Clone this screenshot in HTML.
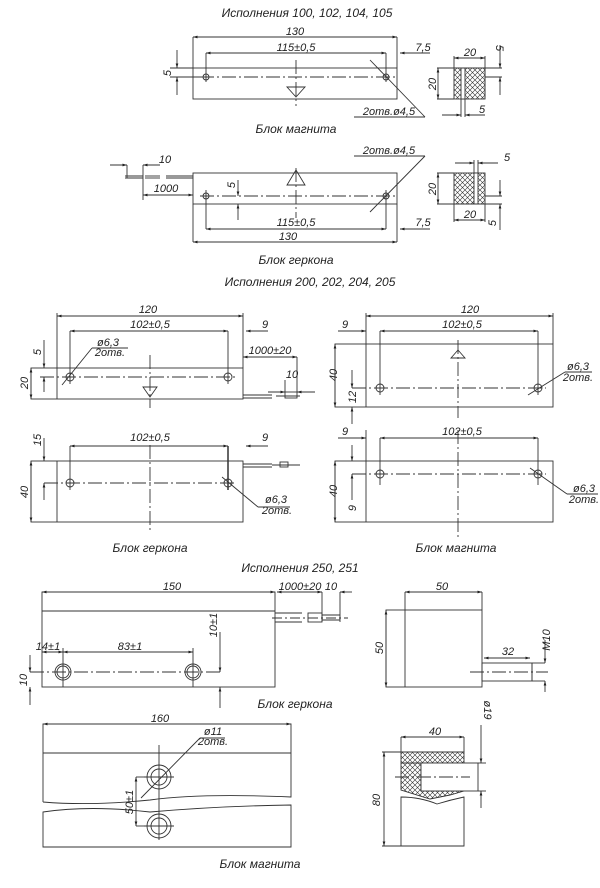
<!DOCTYPE html>
<html><head><meta charset="utf-8"><style>
html,body{margin:0;padding:0;background:#fff}
svg{display:block}
text{font-family:"Liberation Sans Narrow","Liberation Sans",sans-serif;font-style:italic;fill:#222;font-size:11px}
.t{font-size:12px}
</style></head><body>
<svg width="600" height="888" viewBox="0 0 600 888" xmlns="http://www.w3.org/2000/svg">
<defs>
<marker id="a" viewBox="0 0 10 10" refX="10" refY="5" markerWidth="7" markerHeight="5" orient="auto-start-reverse"><path d="M0,2 L10,5 L0,8z" fill="#222"/></marker>
<pattern id="h" width="5" height="5" patternUnits="userSpaceOnUse"><path d="M0,0 L5,5 M5,0 L0,5" stroke="#333" stroke-width="0.6"/></pattern>
</defs>
<g stroke="#333" stroke-width="0.9" fill="none">
<!-- ===== Section 1 magnet ===== -->
<rect x="193" y="68" width="204" height="31"/>
<line x1="193" y1="37" x2="193" y2="68"/><line x1="397" y1="37" x2="397" y2="68"/>
<line x1="193" y1="37" x2="397" y2="37" marker-start="url(#a)" marker-end="url(#a)"/>
<line x1="206" y1="53" x2="386" y2="53" marker-start="url(#a)" marker-end="url(#a)"/>
<line x1="206" y1="53" x2="206" y2="82"/><line x1="386" y1="53" x2="386" y2="82"/>
<line x1="400" y1="53" x2="430" y2="53" marker-start="url(#a)"/>
<circle cx="206" cy="77" r="3"/><circle cx="386" cy="77" r="3"/>
<line x1="200" y1="77" x2="395" y2="77" stroke-dasharray="14,3,2,3"/>
<line x1="296" y1="60" x2="296" y2="106" stroke-dasharray="14,3,2,3"/>
<path d="M287,87 L305,87 L296,97z"/>
<line x1="170" y1="68" x2="193" y2="68"/><line x1="170" y1="77" x2="200" y2="77"/>
<line x1="177" y1="50" x2="177" y2="68" marker-end="url(#a)"/><line x1="177" y1="95" x2="177" y2="77" marker-end="url(#a)"/>
<line x1="370" y1="60" x2="425" y2="117"/><line x1="354" y1="117" x2="425" y2="117"/>
<!-- side 1 -->
<rect x="454" y="68" width="31" height="31" fill="url(#h)"/>
<rect x="461" y="68" width="4" height="31" fill="#fff"/>
<line x1="437" y1="68" x2="502" y2="68"/><line x1="437" y1="99" x2="454" y2="99"/>
<line x1="438" y1="68" x2="438" y2="99" marker-start="url(#a)" marker-end="url(#a)"/>
<line x1="454" y1="56" x2="454" y2="68"/><line x1="485" y1="56" x2="485" y2="99"/>
<line x1="454" y1="58" x2="485" y2="58" marker-start="url(#a)" marker-end="url(#a)"/>
<line x1="461" y1="99" x2="461" y2="117"/><line x1="465" y1="99" x2="465" y2="117"/>
<line x1="442" y1="115" x2="461" y2="115" marker-end="url(#a)"/><line x1="485" y1="115" x2="465" y2="115" marker-end="url(#a)"/>
<line x1="485" y1="77" x2="502" y2="77"/>
<line x1="500" y1="45" x2="500" y2="68" marker-end="url(#a)"/><line x1="500" y1="95" x2="500" y2="77" marker-end="url(#a)"/>
<!-- ===== Section 1 gerkon ===== -->
<rect x="193" y="173" width="204" height="31"/>
<line x1="193" y1="204" x2="193" y2="242"/><line x1="397" y1="204" x2="397" y2="242"/>
<line x1="193" y1="242" x2="397" y2="242" marker-start="url(#a)" marker-end="url(#a)"/>
<line x1="206" y1="229" x2="386" y2="229" marker-start="url(#a)" marker-end="url(#a)"/>
<line x1="206" y1="190" x2="206" y2="229"/><line x1="386" y1="190" x2="386" y2="229"/>
<line x1="400" y1="229" x2="430" y2="229" marker-start="url(#a)"/>
<circle cx="206" cy="196" r="3"/><circle cx="386" cy="196" r="3"/>
<line x1="200" y1="196" x2="395" y2="196" stroke-dasharray="14,3,2,3"/>
<line x1="296" y1="168" x2="296" y2="218" stroke-dasharray="14,3,2,3"/>
<path d="M287,185 L305,185 L296,170z"/>
<line x1="238" y1="180" x2="238" y2="196" marker-end="url(#a)"/><line x1="238" y1="220" x2="238" y2="204" marker-end="url(#a)"/>
<line x1="370" y1="212" x2="425" y2="156"/><line x1="354" y1="156" x2="425" y2="156"/>
<line x1="193" y1="176" x2="166" y2="176"/><line x1="193" y1="178" x2="166" y2="178"/>
<line x1="160" y1="176" x2="145" y2="176"/><line x1="160" y1="178" x2="145" y2="178"/>
<line x1="143" y1="176" x2="125" y2="176"/><line x1="143" y1="178" x2="125" y2="178"/>
<line x1="143" y1="165" x2="143" y2="200"/><line x1="127" y1="165" x2="127" y2="178"/>
<line x1="143" y1="195" x2="193" y2="195" marker-start="url(#a)" marker-end="url(#a)"/>
<line x1="110" y1="165" x2="127" y2="165" marker-end="url(#a)"/><line x1="160" y1="165" x2="143" y2="165" marker-end="url(#a)"/>
<!-- side 2 -->
<rect x="454" y="173" width="31" height="31" fill="url(#h)"/>
<rect x="474" y="173" width="4" height="31" fill="#fff"/>
<line x1="437" y1="173" x2="454" y2="173"/><line x1="437" y1="204" x2="502" y2="204"/>
<line x1="438" y1="173" x2="438" y2="204" marker-start="url(#a)" marker-end="url(#a)"/>
<line x1="454" y1="204" x2="454" y2="222"/><line x1="485" y1="204" x2="485" y2="222"/>
<line x1="454" y1="220" x2="485" y2="220" marker-start="url(#a)" marker-end="url(#a)"/>
<line x1="474" y1="160" x2="474" y2="173"/><line x1="478" y1="160" x2="478" y2="173"/>
<line x1="455" y1="163" x2="474" y2="163" marker-end="url(#a)"/><line x1="498" y1="163" x2="478" y2="163" marker-end="url(#a)"/>
<line x1="485" y1="196" x2="502" y2="196"/>
<line x1="500" y1="180" x2="500" y2="196" marker-end="url(#a)"/><line x1="500" y1="230" x2="500" y2="204" marker-end="url(#a)"/>

<!-- ===== Section 2 left top ===== -->
<rect x="31" y="368" width="212" height="31"/><line x1="57" y1="313" x2="57" y2="399"/>
<line x1="243" y1="313" x2="243" y2="368"/>
<line x1="57" y1="316" x2="243" y2="316" marker-start="url(#a)" marker-end="url(#a)"/>
<line x1="70" y1="331" x2="228" y2="331" marker-start="url(#a)" marker-end="url(#a)"/>
<line x1="70" y1="331" x2="70" y2="384"/><line x1="228" y1="331" x2="228" y2="384"/>
<line x1="246" y1="331" x2="268" y2="331" marker-start="url(#a)"/>
<circle cx="70" cy="377" r="4"/><circle cx="228" cy="377" r="4"/>
<line x1="40" y1="377" x2="236" y2="377" stroke-dasharray="14,3,2,3"/>
<line x1="150" y1="355" x2="150" y2="408" stroke-dasharray="14,3,2,3"/>
<path d="M143,387 L157,387 L150,397z"/>
<line x1="44" y1="340" x2="44" y2="368" marker-end="url(#a)"/><line x1="44" y1="392" x2="44" y2="377" marker-end="url(#a)"/>
<line x1="31" y1="368" x2="31" y2="399" marker-start="url(#a)" marker-end="url(#a)"/>
<line x1="62" y1="385" x2="92" y2="348"/><line x1="92" y1="348" x2="128" y2="348"/>
<line x1="243" y1="395" x2="272" y2="395"/><line x1="243" y1="398" x2="272" y2="398"/>
<rect x="285" y="392" width="12" height="6"/><line x1="276" y1="396" x2="300" y2="396"/>
<line x1="243" y1="357" x2="297" y2="357" marker-start="url(#a)" marker-end="url(#a)"/>
<line x1="297" y1="357" x2="297" y2="392"/><line x1="285" y1="380" x2="285" y2="392"/>
<line x1="268" y1="392" x2="285" y2="392" marker-end="url(#a)"/><line x1="315" y1="392" x2="297" y2="392" marker-end="url(#a)"/>
<!-- left bottom -->
<rect x="31" y="461" width="212" height="61"/><line x1="57" y1="461" x2="57" y2="522"/>
<line x1="70" y1="446" x2="228" y2="446" marker-start="url(#a)" marker-end="url(#a)"/>
<line x1="70" y1="446" x2="70" y2="490"/><line x1="228" y1="446" x2="228" y2="490" stroke-width="1.5"/>
<line x1="246" y1="446" x2="268" y2="446" marker-start="url(#a)"/>
<circle cx="70" cy="483" r="4"/><circle cx="228" cy="483" r="4"/>
<line x1="44" y1="483" x2="236" y2="483" stroke-dasharray="14,3,2,3"/>
<line x1="150" y1="445" x2="150" y2="530" stroke-dasharray="14,3,2,3"/>
<line x1="44" y1="438" x2="44" y2="461" marker-end="url(#a)"/><line x1="44" y1="500" x2="44" y2="483" marker-end="url(#a)"/>
<line x1="31" y1="461" x2="31" y2="522" marker-start="url(#a)" marker-end="url(#a)"/>
<line x1="222" y1="477" x2="258" y2="507"/><line x1="258" y1="507" x2="290" y2="507"/>
<line x1="243" y1="464" x2="272" y2="464"/><line x1="243" y1="467" x2="272" y2="467"/>
<rect x="280" y="462" width="8" height="5"/><line x1="272" y1="465" x2="300" y2="465"/>
<!-- right top -->
<rect x="335" y="344" width="218" height="63"/><line x1="366" y1="313" x2="366" y2="407"/>
<line x1="553" y1="313" x2="553" y2="344"/>
<line x1="366" y1="316" x2="553" y2="316" marker-start="url(#a)" marker-end="url(#a)"/>
<line x1="380" y1="331" x2="538" y2="331" marker-start="url(#a)" marker-end="url(#a)"/>
<line x1="380" y1="331" x2="380" y2="395"/><line x1="538" y1="331" x2="538" y2="395"/>
<line x1="338" y1="331" x2="366" y2="331" marker-end="url(#a)"/>
<circle cx="380" cy="388" r="4"/><circle cx="538" cy="388" r="4"/>
<line x1="352" y1="388" x2="546" y2="388" stroke-dasharray="14,3,2,3"/>
<line x1="458" y1="340" x2="458" y2="418" stroke-dasharray="14,3,2,3"/>
<path d="M451,358 L465,358 L458,350z"/>
<line x1="335" y1="344" x2="335" y2="407" marker-start="url(#a)" marker-end="url(#a)"/>
<line x1="352" y1="370" x2="352" y2="388" marker-end="url(#a)"/><line x1="352" y1="424" x2="352" y2="407" marker-end="url(#a)"/>
<line x1="528" y1="395" x2="565" y2="372"/><line x1="565" y1="372" x2="592" y2="372"/>
<!-- right bottom -->
<rect x="335" y="461" width="218" height="61"/><line x1="366" y1="430" x2="366" y2="522"/>
<line x1="380" y1="438" x2="538" y2="438" marker-start="url(#a)" marker-end="url(#a)"/>
<line x1="380" y1="438" x2="380" y2="485"/><line x1="538" y1="438" x2="538" y2="485"/>
<line x1="338" y1="438" x2="366" y2="438" marker-end="url(#a)"/>
<circle cx="380" cy="474" r="4"/><circle cx="538" cy="474" r="4"/>
<line x1="352" y1="474" x2="546" y2="474" stroke-dasharray="14,3,2,3"/>
<line x1="458" y1="430" x2="458" y2="537" stroke-dasharray="14,3,2,3"/>
<line x1="335" y1="461" x2="335" y2="522" marker-start="url(#a)" marker-end="url(#a)"/>
<line x1="352" y1="445" x2="352" y2="461" marker-end="url(#a)"/><line x1="352" y1="500" x2="352" y2="474" marker-end="url(#a)"/>
<line x1="530" y1="468" x2="567" y2="494"/><line x1="567" y1="494" x2="598" y2="494"/>

<!-- ===== Section 3 gerkon ===== -->
<rect x="42" y="592" width="233" height="95"/><line x1="42" y1="611" x2="275" y2="611"/>
<line x1="42" y1="592" x2="275" y2="592" marker-start="url(#a)" marker-end="url(#a)"/>
<line x1="277" y1="592" x2="322" y2="592" marker-start="url(#a)" marker-end="url(#a)"/>
<line x1="340" y1="592" x2="352" y2="592" marker-start="url(#a)"/>
<line x1="322" y1="592" x2="322" y2="622"/><line x1="340" y1="592" x2="340" y2="622"/>
<line x1="275" y1="613" x2="302" y2="613"/><line x1="275" y1="622" x2="302" y2="622"/>
<rect x="308" y="613" width="14" height="9"/>
<line x1="322" y1="615" x2="340" y2="615"/><line x1="322" y1="620" x2="340" y2="620"/>
<line x1="272" y1="618" x2="348" y2="618" stroke-dasharray="10,3,2,3"/>
<circle cx="63" cy="672" r="8"/><circle cx="63" cy="672" r="6"/>
<circle cx="193" cy="672" r="8"/><circle cx="193" cy="672" r="6"/>
<line x1="63" y1="648" x2="63" y2="687"/><line x1="193" y1="648" x2="193" y2="687"/>
<line x1="42" y1="652" x2="63" y2="652" marker-start="url(#a)" marker-end="url(#a)"/>
<line x1="63" y1="652" x2="193" y2="652" marker-start="url(#a)" marker-end="url(#a)"/>
<line x1="30" y1="672" x2="222" y2="672" stroke-dasharray="14,3,2,3"/>
<line x1="220" y1="632" x2="220" y2="672" marker-end="url(#a)"/><line x1="220" y1="708" x2="220" y2="687" marker-end="url(#a)"/>
<line x1="30" y1="655" x2="30" y2="672" marker-end="url(#a)"/><line x1="30" y1="705" x2="30" y2="687" marker-end="url(#a)"/>
<!-- side 3 -->
<rect x="386" y="610" width="96" height="77"/><line x1="405" y1="592" x2="405" y2="687"/>
<line x1="482" y1="592" x2="482" y2="610"/>
<line x1="405" y1="592" x2="482" y2="592" marker-start="url(#a)" marker-end="url(#a)"/>
<line x1="386" y1="610" x2="386" y2="687" marker-start="url(#a)" marker-end="url(#a)"/>
<rect x="482" y="663" width="50" height="18"/><line x1="532" y1="663" x2="532" y2="681"/>
<line x1="532" y1="663" x2="545" y2="663"/><line x1="532" y1="681" x2="545" y2="681"/>
<line x1="470" y1="672" x2="548" y2="672" stroke-dasharray="14,3,2,3"/>
<line x1="484" y1="658" x2="530" y2="658" marker-start="url(#a)" marker-end="url(#a)"/>
<line x1="545" y1="640" x2="545" y2="663" marker-end="url(#a)"/><line x1="545" y1="692" x2="545" y2="681" marker-end="url(#a)"/>

<!-- ===== Section 3 magnet ===== -->
<path d="M43,802 L43,724 L291,724 L291,797 Q200,793 150,800 Q90,806 43,802"/>
<path d="M43,812 Q90,805 150,812 Q220,806 291,805 L291,847 L43,847 Z"/>
<line x1="43" y1="753" x2="291" y2="753"/>
<line x1="43" y1="724" x2="291" y2="724" marker-start="url(#a)" marker-end="url(#a)"/>
<circle cx="159" cy="777" r="12"/><circle cx="159" cy="777" r="8"/>
<circle cx="159" cy="826" r="12"/><circle cx="159" cy="826" r="8"/>
<line x1="159" y1="745" x2="159" y2="840"/><line x1="144" y1="777" x2="174" y2="777"/><line x1="144" y1="826" x2="174" y2="826"/>
<line x1="136" y1="777" x2="136" y2="826" marker-start="url(#a)" marker-end="url(#a)"/>
<line x1="136" y1="777" x2="150" y2="777"/><line x1="136" y1="826" x2="150" y2="826"/>
<line x1="141" y1="798" x2="200" y2="738"/><line x1="200" y1="738" x2="225" y2="738"/>
<!-- side magnet -->
<path d="M401,752 L464,752 L464,763 L421,763 L421,791 L464,791 L450,795 L430,799 L401,790 Z" fill="url(#h)"/>
<line x1="401" y1="763" x2="421" y2="763"/>
<rect x="421" y="763" width="57" height="28" fill="#fff"/>
<path d="M401,846 L401,797 Q420,797 437,804 Q450,800 464,797 L464,846 Z"/>
<line x1="401" y1="737" x2="401" y2="752"/><line x1="464" y1="737" x2="464" y2="752"/>
<line x1="401" y1="737" x2="464" y2="737" marker-start="url(#a)" marker-end="url(#a)"/>
<line x1="382" y1="752" x2="401" y2="752"/><line x1="382" y1="846" x2="401" y2="846"/>
<line x1="384" y1="752" x2="384" y2="846" marker-start="url(#a)" marker-end="url(#a)"/>
<line x1="478" y1="763" x2="486" y2="763"/><line x1="478" y1="791" x2="486" y2="791"/>
<line x1="481" y1="725" x2="481" y2="763" marker-end="url(#a)"/><line x1="481" y1="808" x2="481" y2="791" marker-end="url(#a)"/>
<line x1="395" y1="777" x2="470" y2="777" stroke-dasharray="14,3,2,3"/>
</g>

<!-- TEXT -->
<g text-anchor="middle">
<text class="t" x="307" y="17">Исполнения 100, 102, 104, 105</text>
<text x="295" y="35">130</text><text x="296" y="51">115±0,5</text><text x="423" y="51">7,5</text>
<text x="389" y="115">2отв.ø4,5</text>
<text class="t" x="296" y="133">Блок магнита</text>
<text x="470" y="56">20</text><text x="482" y="113">5</text>
<text transform="translate(171,73) rotate(-90)">5</text>
<text transform="translate(436,84) rotate(-90)">20</text>
<text transform="translate(496,48) rotate(90)">5</text>
<text x="389" y="154">2отв.ø4,5</text>
<text x="165" y="163">10</text><text x="166" y="192">1000</text>
<text transform="translate(235,185) rotate(-90)">5</text>
<text x="296" y="226">115±0,5</text><text x="288" y="240">130</text><text x="423" y="226">7,5</text>
<text x="507" y="161">5</text><text x="470" y="218">20</text>
<text transform="translate(436,189) rotate(-90)">20</text>
<text transform="translate(496,223) rotate(-90)">5</text>
<text class="t" x="296" y="264">Блок геркона</text>
<text class="t" x="310" y="286">Исполнения 200, 202, 204, 205</text>

<text x="148" y="313">120</text><text x="150" y="328">102±0,5</text><text x="265" y="328">9</text>
<text x="108" y="346">ø6,3</text><text x="110" y="356">2отв.</text>
<text x="270" y="354">1000±20</text><text x="292" y="378">10</text>
<text transform="translate(41,352) rotate(-90)">5</text>
<text transform="translate(28,383) rotate(-90)">20</text>
<text x="150" y="441">102±0,5</text><text x="265" y="441">9</text>
<text transform="translate(41,440) rotate(-90)">15</text>
<text transform="translate(28,492) rotate(-90)">40</text>
<text x="276" y="503">ø6,3</text><text x="277" y="514">2отв.</text>
<text x="470" y="313">120</text><text x="462" y="328">102±0,5</text><text x="345" y="328">9</text>
<text transform="translate(337,375) rotate(-90)">40</text>
<text transform="translate(356,397) rotate(-90)">12</text>
<text x="578" y="370">ø6,3</text><text x="578" y="381">2отв.</text>
<text x="462" y="435">102±0,5</text><text x="345" y="435">9</text>
<text transform="translate(337,491) rotate(-90)">40</text>
<text transform="translate(356,508) rotate(-90)">9</text>
<text x="584" y="492">ø6,3</text><text x="584" y="503">2отв.</text>
<text class="t" x="150" y="552">Блок геркона</text>
<text class="t" x="456" y="552">Блок магнита</text>
<text class="t" x="300" y="572">Исполнения 250, 251</text>

<text x="172" y="590">150</text><text x="300" y="590">1000±20</text><text x="331" y="590">10</text>
<text x="48" y="650">14±1</text><text x="130" y="650">83±1</text>
<text transform="translate(217,625) rotate(-90)">10±1</text>
<text transform="translate(27,680) rotate(-90)">10</text>
<text x="442" y="590">50</text>
<text transform="translate(383,648) rotate(-90)">50</text>
<text x="508" y="655">32</text>
<text transform="translate(550,640) rotate(-90)">M10</text>
<text class="t" x="295" y="708">Блок геркона</text>
<text x="160" y="722">160</text>
<text x="213" y="735">ø11</text><text x="213" y="745">2отв.</text>
<text transform="translate(133,802) rotate(-90)">50±1</text>
<text x="435" y="735">40</text>
<text transform="translate(484,710) rotate(90)">ø19</text>
<text transform="translate(380,800) rotate(-90)">80</text>
<text class="t" x="260" y="868">Блок магнита</text>
</g>
</svg>
</body></html>
